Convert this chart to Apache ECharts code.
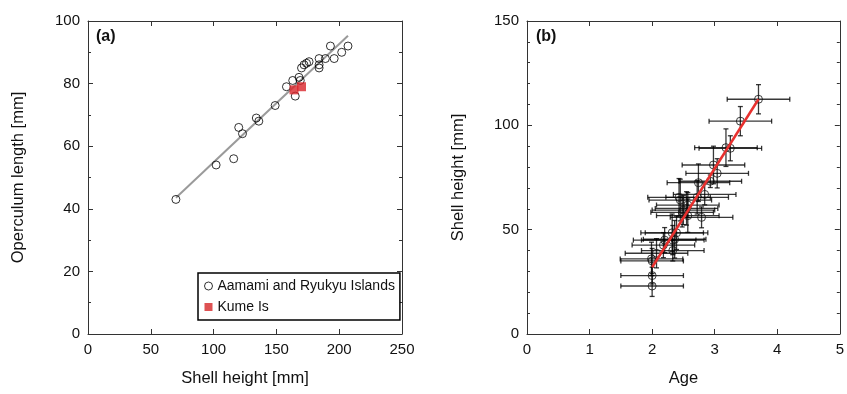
<!DOCTYPE html>
<html>
<head>
<meta charset="utf-8">
<script src="https://cdn.jsdelivr.net/npm/echarts@6/dist/echarts.min.js"></script>
<style>
html, body { margin: 0; padding: 0; background: #fff; }
#chart { width: 847px; height: 394px; }
</style>
</head>
<body>
<div id="chart"></div>
<script>
// panel (a): operculum length vs shell height
let ryukyuShell = [70, 102, 116, 120, 123, 134, 136, 149, 158, 163, 165, 168, 169, 170, 172, 174, 176, 184, 184, 184, 189, 193, 196, 202, 207];
let ryukyuOperc = [43, 54, 56, 66, 64, 69, 68, 73, 79, 81, 76, 82, 81, 85, 86, 86.5, 87, 88, 86, 85, 88, 92, 88, 90, 92];
let kumeShell = [164, 170];
let kumeOperc = [78, 79];
let fitA_x = [70, 207];
let fitA_y = [43.5, 95.3];

// panel (b): shell height vs age, with error bars
let ages    = [3.70, 3.41, 3.18, 3.25, 2.98, 3.04, 2.74, 2.93, 2.84, 2.43, 2.72, 2.55, 2.48, 2.57, 2.79, 2.32, 2.39, 2.20, 2.33, 2.07, 2.33, 1.99, 2.00, 2.00, 2.00, 2.50, 2.57, 2.45, 2.18, 2.36];
let heights = [112.5, 102, 89.3, 89, 81, 77, 72.5, 73.2, 66.9, 65.5, 65.5, 60.2, 58.3, 56.7, 55.9, 48.5, 48.5, 45, 45, 38.7, 40, 36, 35, 28, 23, 59.4, 61.8, 64.2, 42.6, 45.4];
let heightErr = [7, 7, 9, 6, 9, 7, 9, 3, 5, 9, 8, 8, 7, 8, 5, 9, 8, 6, 7, 7, 5, 8, 6, 4, 5, 7, 6, 10, 6, 9];
let ageErr = 0.5;
let fitB_x = [2.0, 3.7];
let fitB_y = [32, 112.5];

let font = 'Arial, "Liberation Sans", sans-serif';
let axisCol = '#333';

function zip(a, b) {
    let out = [];
    for (let i = 0; i < a.length; i++) out.push([a[i], b[i]]);
    return out;
}

let errData = [];
for (let i = 0; i < ages.length; i++) {
    errData.push([ages[i], heights[i], ageErr, heightErr[i]]);
}

function mkX(grid, min, max, interval, name, main) {
    return {
        gridIndex: grid, type: 'value', min: min, max: max, interval: interval,
        position: main ? 'bottom' : 'top',
        axisLine: { show: true, onZero: false, lineStyle: { color: axisCol, width: 1 } },
        axisTick: { show: true, inside: true, length: 5, lineStyle: { color: axisCol } },
        axisLabel: { show: main, fontSize: 15, color: '#111', fontFamily: font, margin: 8 },
        splitLine: { show: false },
        name: main ? name : '', nameLocation: 'middle', nameGap: 36,
        nameTextStyle: { fontSize: 16.5, color: '#111', fontFamily: font }
    };
}

function mkY(grid, min, max, interval, minorSplit, name, main, gap) {
    return {
        gridIndex: grid, type: 'value', min: min, max: max, interval: interval,
        position: main ? 'left' : 'right',
        axisLine: { show: true, onZero: false, lineStyle: { color: axisCol, width: 1 } },
        axisTick: { show: true, inside: true, length: 5, lineStyle: { color: axisCol } },
        minorTick: { show: true, splitNumber: minorSplit, length: 3, lineStyle: { color: axisCol } },
        axisLabel: { show: main, fontSize: 15, color: '#111', fontFamily: font, margin: 8 },
        splitLine: { show: false },
        name: main ? name : '', nameLocation: 'middle', nameGap: gap,
        nameTextStyle: { fontSize: 16.5, color: '#111', fontFamily: font }
    };
}

let option = {
    animation: false,
    backgroundColor: '#fff',
    grid: [
        { left: 88, top: 21, width: 314, height: 313 },
        { left: 527, top: 21, width: 313, height: 313 }
    ],
    xAxis: [
        mkX(0, 0, 250, 50, 'Shell height [mm]', true),
        mkX(0, 0, 250, 50, '', false),
        mkX(1, 0, 5, 1, 'Age', true),
        mkX(1, 0, 5, 1, '', false)
    ],
    yAxis: [
        mkY(0, 0, 100, 20, 2, 'Operculum length [mm]', true, 61),
        mkY(0, 0, 100, 20, 2, '', false, 0),
        mkY(1, 0, 150, 50, 5, 'Shell height [mm]', true, 60),
        mkY(1, 0, 150, 50, 5, '', false, 0)
    ],
    legend: {
        left: 198, top: 273, orient: 'vertical',
        backgroundColor: '#fff', borderColor: '#000', borderWidth: 1.5,
        padding: [6, 5, 6, 6], itemGap: 7, itemWidth: 8, itemHeight: 8,
        textStyle: { fontSize: 14, color: '#111', fontFamily: font },
        data: [
            { name: 'Aamami and Ryukyu Islands', icon: 'circle', itemStyle: { color: '#fff', borderColor: '#000', borderWidth: 1 } },
            { name: 'Kume Is', icon: 'rect', itemStyle: { color: '#d62728' } }
        ]
    },
    graphic: [
        { type: 'text', left: 96, top: 29, style: { text: '(a)', font: 'bold 16px ' + font, fill: '#111' } },
        { type: 'text', left: 536, top: 29, style: { text: '(b)', font: 'bold 16px ' + font, fill: '#111' } }
    ],
    series: [
        {
            name: 'fitA', type: 'line', xAxisIndex: 0, yAxisIndex: 0,
            data: zip(fitA_x, fitA_y), showSymbol: false, symbol: 'none',
            lineStyle: { color: '#9a9a9a', width: 2 }, z: 1
        },
        {
            name: 'Aamami and Ryukyu Islands', type: 'scatter', xAxisIndex: 0, yAxisIndex: 0,
            data: zip(ryukyuShell, ryukyuOperc), symbol: 'circle', symbolSize: 8,
            itemStyle: { color: 'rgba(0,0,0,0)', borderColor: '#000', borderWidth: 1 }, z: 3
        },
        {
            name: 'Kume Is', type: 'scatter', xAxisIndex: 0, yAxisIndex: 0,
            data: zip(kumeShell, kumeOperc), symbol: 'rect', symbolSize: 9,
            itemStyle: { color: '#d9262b' }, z: 4
        },
        {
            name: 'err', type: 'custom', xAxisIndex: 2, yAxisIndex: 2,
            data: errData,
            renderItem: function (params, api) {
                let x = api.value(0), y = api.value(1), ex = api.value(2), ey = api.value(3);
                let l = api.coord([x - ex, y]), r = api.coord([x + ex, y]);
                let t = api.coord([x, y + ey]), b = api.coord([x, y - ey]);
                let st = { stroke: 'rgba(0,0,0,0.78)', lineWidth: 1.3 };
                let c = 2.5;
                return {
                    type: 'group',
                    children: [
                        { type: 'line', shape: { x1: l[0], y1: l[1], x2: r[0], y2: r[1] }, style: st },
                        { type: 'line', shape: { x1: l[0], y1: l[1] - c, x2: l[0], y2: l[1] + c }, style: st },
                        { type: 'line', shape: { x1: r[0], y1: r[1] - c, x2: r[0], y2: r[1] + c }, style: st },
                        { type: 'line', shape: { x1: t[0], y1: t[1], x2: b[0], y2: b[1] }, style: st },
                        { type: 'line', shape: { x1: t[0] - c, y1: t[1], x2: t[0] + c, y2: t[1] }, style: st },
                        { type: 'line', shape: { x1: b[0] - c, y1: b[1], x2: b[0] + c, y2: b[1] }, style: st }
                    ]
                };
            },
            z: 2
        },
        {
            name: 'ageData', type: 'scatter', xAxisIndex: 2, yAxisIndex: 2,
            data: zip(ages, heights), symbol: 'circle', symbolSize: 8,
            itemStyle: { color: 'rgba(0,0,0,0)', borderColor: '#111', borderWidth: 1 }, z: 3
        },
        {
            name: 'fitB', type: 'line', xAxisIndex: 2, yAxisIndex: 2,
            data: zip(fitB_x, fitB_y), showSymbol: false, symbol: 'none',
            lineStyle: { color: '#e8302e', width: 2.5 }, z: 5
        }
    ]
};

let myChart = echarts.init(document.getElementById('chart'));
myChart.setOption(option, true);
</script>
</body>
</html>
